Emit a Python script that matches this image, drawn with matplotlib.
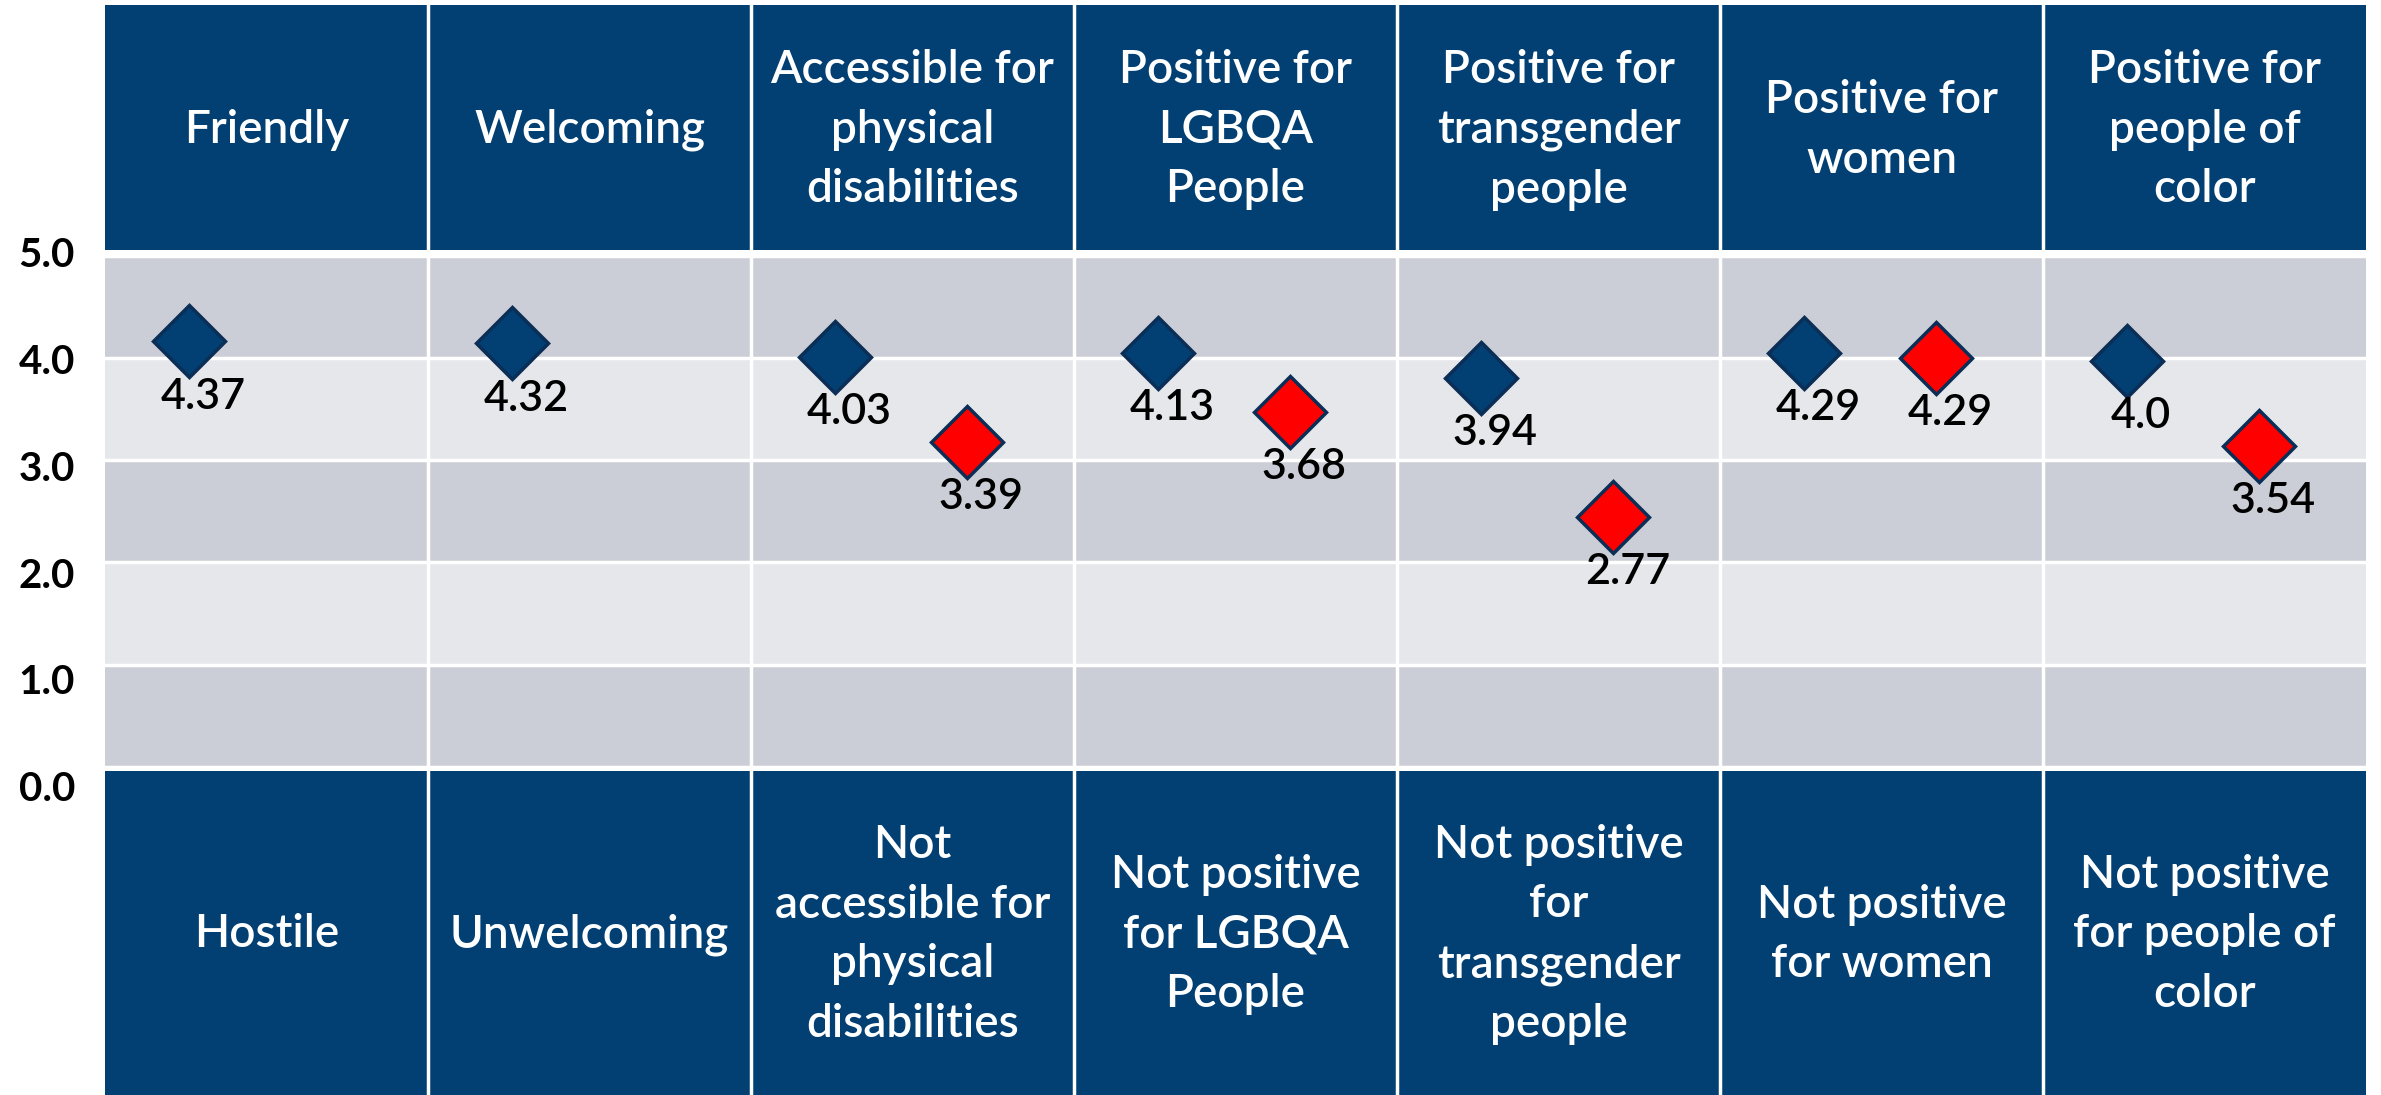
import numpy as np
import matplotlib
matplotlib.use("Agg")
import matplotlib.pyplot as plt
from matplotlib.patches import Rectangle
from matplotlib.transforms import blended_transform_factory

top_labels = [
    "Friendly",
    "Welcoming",
    "Accessible for\nphysical\ndisabilities",
    "Positive for\nLGBQA\nPeople",
    "Positive for\ntransgender\npeople",
    "Positive for\nwomen",
    "Positive for\npeople of\ncolor",
]
bottom_labels = [
    "Hostile",
    "Unwelcoming",
    "Not\naccessible for\nphysical\ndisabilities",
    "Not positive\nfor LGBQA\nPeople",
    "Not positive\nfor\ntransgender\npeople",
    "Not positive\nfor women",
    "Not positive\nfor people of\ncolor",
]

# marker heights as drawn in the picture, and the numbers printed under them
blue_y = [4.16, 4.14, 4.01, 4.05, 3.80, 4.05, 3.97]
blue_text = ["4.37", "4.32", "4.03", "4.13", "3.94", "4.29", "4.0"]
red_y = [np.nan, np.nan, 3.18, 3.47, 2.44, 4.00, 3.14]
red_text = [None, None, "3.39", "3.68", "2.77", "4.29", "3.54"]

yticks = [0, 1, 2, 3, 4, 5]

NAVY = "#023f73"
EDGE = "#0b2e57"
DARK = "#cbced6"
LIGHT = "#e6e7eb"

plt.rcParams["font.family"] = ["Lato", "DejaVu Sans"]

fig = plt.figure(figsize=(23.81, 10.95), dpi=100)
ax = fig.add_axes([105 / 2381, 0, 2261 / 2381, 1 - 5 / 1095])

n = len(top_labels)
ax.set_xlim(0, n)
ax.set_ylim(-3.21, 7.45)

# bands
for k in range(5):
    ax.axhspan(k, k + 1, color=DARK if k % 2 == 0 else LIGHT, lw=0, zorder=0)
for k in range(6):
    ax.axhline(k, color="white", lw=2.5, zorder=1)

# header and footer cells
ax.add_patch(Rectangle((0, 5.05), n, 3, color=NAVY, lw=0, zorder=1))
ax.add_patch(Rectangle((0, -4), n, 3.96, color=NAVY, lw=0, zorder=1))
for i in range(1, n):
    ax.axvline(i, color="white", lw=2.5, zorder=2)

for i in range(n):
    ax.text(i + 0.5, 6.23, top_labels[i], ha="center", va="center",
            color="white", fontsize=33, fontweight="semibold",
            linespacing=1.52, zorder=3)
    ax.text(i + 0.5, -1.64, bottom_labels[i], ha="center", va="center",
            color="white", fontsize=33, fontweight="semibold",
            linespacing=1.52, zorder=3)

x = np.arange(n)
bx = x + 0.26
rx = x + 0.67
ax.plot(bx, blue_y, ls="none", marker="D", ms=37, mfc=NAVY, mec=EDGE,
        mew=2.5, zorder=4)
ax.plot(rx, red_y, ls="none", marker="D", ms=37, mfc="#ff0000", mec=EDGE,
        mew=2.5, zorder=4)

for xi, yi, t in zip(bx, blue_y, blue_text):
    ax.annotate(t, (xi, yi), xytext=(10, -26), textcoords="offset points",
                ha="center", va="top", fontsize=31, fontweight="semibold",
                color="black", zorder=5)
for xi, yi, t in zip(rx, red_y, red_text):
    if t is None:
        continue
    ax.annotate(t, (xi, yi), xytext=(10, -26), textcoords="offset points",
                ha="center", va="top", fontsize=31, fontweight="semibold",
                color="black", zorder=5)

# y labels sit a little lower the further down the scale they go
ax.set_yticks([])
trans = blended_transform_factory(fig.transFigure, ax.transData)
for v in yticks:
    ax.text(75 / 2381, v - 0.045 * (5 - v), f"{v:.1f}", transform=trans,
            ha="right", va="center", fontsize=29, fontweight="bold",
            color="black")
ax.set_xticks([])
for s in ax.spines.values():
    s.set_visible(False)

fig.savefig("out.png", dpi=100)
